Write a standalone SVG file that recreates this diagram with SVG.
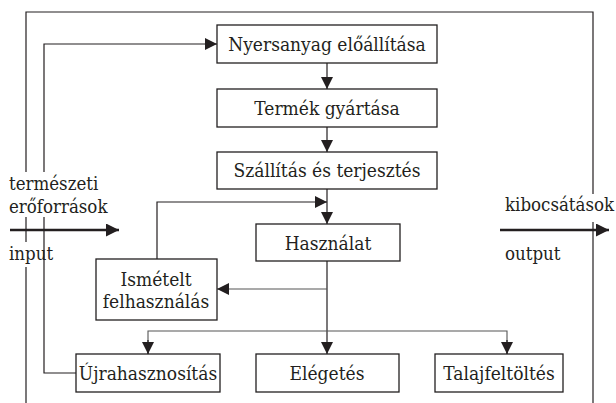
<svg xmlns="http://www.w3.org/2000/svg" width="616" height="403" viewBox="0 0 616 403">
<style>
.box{fill:#fff;stroke:#231f20;stroke-width:1.3}
.ln{fill:none;stroke:#231f20;stroke-width:1.2}
.gl{fill:none;stroke:#555;stroke-width:1.1}
.th{fill:none;stroke:#231f20;stroke-width:2.4}
.c{text-anchor:middle}
</style>
<defs>
<marker id="ah" viewBox="0 0 12 12" refX="12" refY="6" markerWidth="12" markerHeight="12" markerUnits="userSpaceOnUse" orient="auto">
<path d="M0,0 L12,6 L0,12 Z" fill="#231f20"/>
</marker>
<marker id="ahb" viewBox="0 0 12 12" refX="12" refY="6" markerWidth="13" markerHeight="13" markerUnits="userSpaceOnUse" orient="auto">
<path d="M0,0 L12,6 L0,12 Z" fill="#231f20"/>
</marker>
</defs>
<g id="connectors">
<path class="ln" d="M26,172 V12 H593 V194"/>
<path class="ln" d="M593,222 V403"/>
<path class="ln" d="M26,217 V242"/>
<path class="ln" d="M26,267 V403"/>
<path class="ln" d="M44,172 V44 H217" marker-end="url(#ah)"/>
<path class="ln" d="M44,217 V373 H76"/>
<path class="ln" d="M327,63 V89" marker-end="url(#ah)"/>
<path class="ln" d="M327,127 V152" marker-end="url(#ah)"/>
<path class="ln" d="M327,189 V224" marker-end="url(#ah)"/>
<path class="ln" d="M157,259 V202 H327" marker-end="url(#ah)"/>
<path class="ln" d="M327,261 V354" marker-end="url(#ah)"/>
<path class="gl" d="M327,289 H217" marker-end="url(#ah)"/>
<path class="gl" d="M148,354 V331 H507 V354"/>
<path class="ln" d="M148,340 V354" marker-end="url(#ah)"/>
<path class="ln" d="M507,340 V354" marker-end="url(#ah)"/>
<path class="th" d="M10,230 H119" marker-end="url(#ahb)"/>
<path class="th" d="M500,230 H609" marker-end="url(#ahb)"/>
</g>
<g font-family="DejaVu Serif, serif" font-stretch="condensed" font-size="19" fill="#231f20">
<g id="n1"><rect class="box" x="217" y="25" width="220" height="38"/><text class="c" x="327" y="51">Nyersanyag előállítása</text></g>
<g id="n2"><rect class="box" x="217" y="89" width="220" height="38"/><text class="c" x="327" y="115">Termék gyártása</text></g>
<g id="n3"><rect class="box" x="217" y="152" width="220" height="37"/><text class="c" x="327" y="177">Szállítás és terjesztés</text></g>
<g id="n4"><rect class="box" x="256" y="224" width="144" height="37"/><text class="c" x="328" y="250">Használat</text></g>
<g id="n5"><rect class="box" x="96" y="259" width="121" height="61"/><text class="c" x="156" y="286">Ismételt</text><text class="c" x="156" y="308">felhasználás</text></g>
<g id="n6"><rect class="box" x="76" y="354" width="144" height="38"/><text class="c" x="148" y="380">Újrahasznosítás</text></g>
<g id="n7"><rect class="box" x="256" y="354" width="143" height="38"/><text class="c" x="327" y="380">Elégetés</text></g>
<g id="n8"><rect class="box" x="435" y="354" width="128" height="38"/><text class="c" x="499" y="380">Talajfeltöltés</text></g>
<g id="labels" font-size="18.5">
<text x="9" y="190">természeti</text>
<text x="9" y="213">erőforrások</text>
<text x="9" y="260">input</text>
<text x="505" y="211">kibocsátások</text>
<text x="505" y="260">output</text>
</g>
</g>
</svg>
